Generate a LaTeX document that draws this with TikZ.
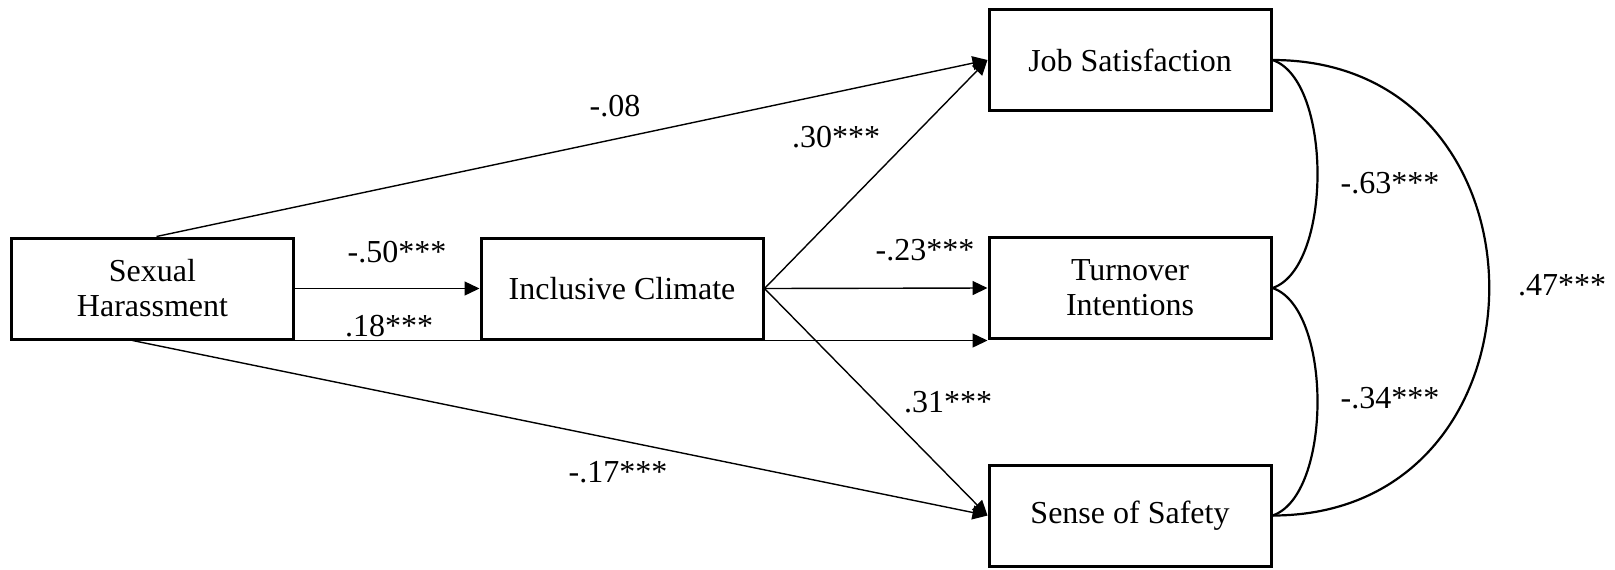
\documentclass[tikz,border=0pt]{standalone}
\usepackage{fontspec}
\setmainfont{Liberation Serif}
\usetikzlibrary{arrows.meta}
\begin{document}
\begin{tikzpicture}[x=0.5pt,y=-0.5pt,
  box/.style={draw,line width=1.5pt,minimum width=141pt,minimum height=50.5pt,inner sep=0pt,align=center,font=\fontsize{16}{17.5}\selectfont},
  lbl/.style={inner sep=0pt,font=\fontsize{16}{17.5}\selectfont},
  arr/.style={line width=0.7pt,-{Triangle[length=7.5pt,width=7pt]}},
  cov/.style={line width=1.1pt}]
\useasboundingbox (0,0) rectangle (1615,569);
% boxes
\node[box] (SH) at (152.5,288.5) {Sexual\\Harassment};
\node[box] (IC) at (622,288.5) {Inclusive Climate};
\node[box] (JS) at (1130,60) {Job Satisfaction};
\node[box] (TI) at (1130,288) {Turnover\\Intentions};
\node[box] (SS) at (1130,515.5) {Sense of Safety};
% paths
\draw[arr] (SH.east) -- (IC.west);
\draw[arr] (SH.south east) -- (SH.south east -| TI.west);
\draw[arr] ([xshift=2pt]SH.north) -- (JS.west);
\draw[arr] ([xshift=-10pt]SH.south) -- (SS.west);
\draw[arr] (IC.east) -- (JS.west);
\draw[arr] (IC.east) -- (TI.west);
\draw[arr] (IC.east) -- (SS.west);
% covariances
\draw[cov] (JS.east) .. controls +(60,20) and +(60,-20) .. (TI.east);
\draw[cov] (TI.east) .. controls +(60,20) and +(60,-20) .. (SS.east);
\draw[cov] (JS.east) .. controls +(289,0) and +(289,0) .. (SS.east);
% labels
\node[lbl] (l1) at (615,106) {-.08};
\node[lbl] (l2) at (836,137) {.30***};
\node[lbl] (l3) at (397,252) {-.50***};
\node[lbl] (l4) at (389,326) {.18***};
\node[lbl] (l5) at (925,250) {-.23***};
\node[lbl] (l6) at (948,402) {.31***};
\node[lbl] (l7) at (618,472) {-.17***};
\node[lbl] (l8) at (1390,183) {-.63***};
\node[lbl] (l9) at (1390,398) {-.34***};
\node[lbl] (l10) at (1562,285) {.47***};
\end{tikzpicture}
\end{document}
